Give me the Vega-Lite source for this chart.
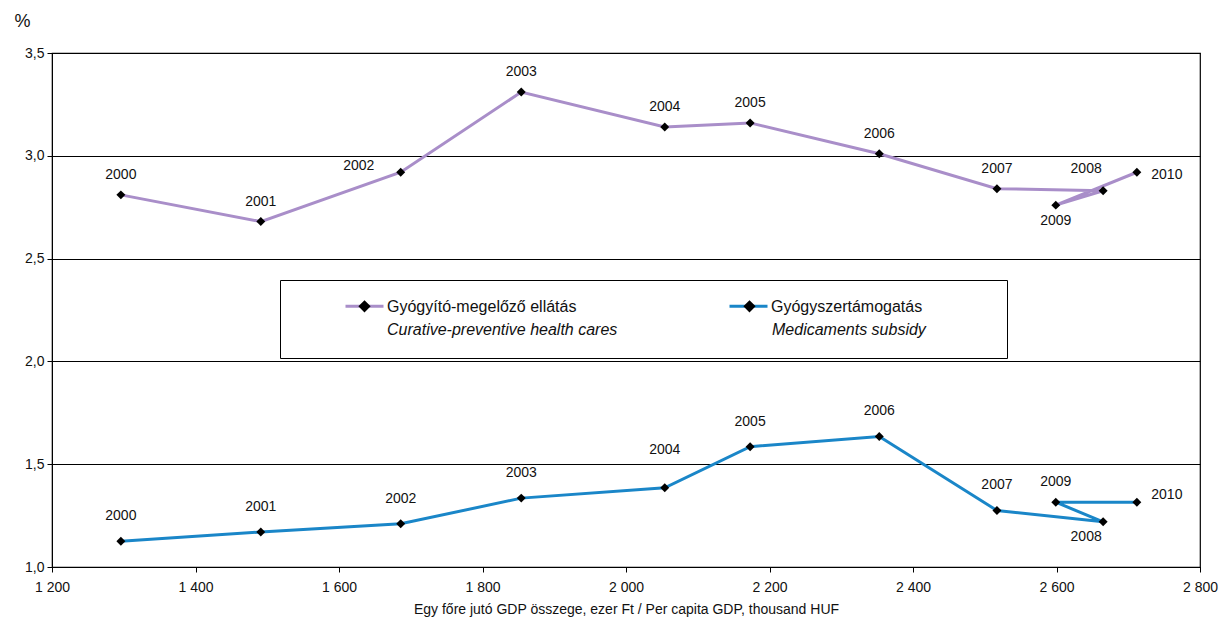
{
  "$schema": "https://vega.github.io/schema/vega-lite/v6.json",
  "width": 1148,
  "height": 514,
  "autosize": {"type": "none"},
  "padding": {"left": 52, "top": 53, "right": 23, "bottom": 57},
  "background": "white",
  "config": {
    "font": "Liberation Sans",
    "view": {"stroke": "black", "strokeWidth": 1.2},
    "axis": {"labelFont": "Liberation Sans", "titleFont": "Liberation Sans", "labelColor": "#111", "titleColor": "#111", "domainColor": "black", "tickColor": "black"}
  },
  "data": {
    "values": [
      {"series": "Gyógyító-megelőző ellátás", "series_en": "Curative-preventive health cares", "year": 2000, "gdp": 1296, "value": 2.81},
      {"series": "Gyógyító-megelőző ellátás", "series_en": "Curative-preventive health cares", "year": 2001, "gdp": 1491, "value": 2.68},
      {"series": "Gyógyító-megelőző ellátás", "series_en": "Curative-preventive health cares", "year": 2002, "gdp": 1686, "value": 2.92},
      {"series": "Gyógyító-megelőző ellátás", "series_en": "Curative-preventive health cares", "year": 2003, "gdp": 1854, "value": 3.31},
      {"series": "Gyógyító-megelőző ellátás", "series_en": "Curative-preventive health cares", "year": 2004, "gdp": 2054, "value": 3.14},
      {"series": "Gyógyító-megelőző ellátás", "series_en": "Curative-preventive health cares", "year": 2005, "gdp": 2173, "value": 3.16},
      {"series": "Gyógyító-megelőző ellátás", "series_en": "Curative-preventive health cares", "year": 2006, "gdp": 2353, "value": 3.01},
      {"series": "Gyógyító-megelőző ellátás", "series_en": "Curative-preventive health cares", "year": 2007, "gdp": 2517, "value": 2.84},
      {"series": "Gyógyító-megelőző ellátás", "series_en": "Curative-preventive health cares", "year": 2008, "gdp": 2665, "value": 2.83},
      {"series": "Gyógyító-megelőző ellátás", "series_en": "Curative-preventive health cares", "year": 2009, "gdp": 2599, "value": 2.76},
      {"series": "Gyógyító-megelőző ellátás", "series_en": "Curative-preventive health cares", "year": 2010, "gdp": 2712, "value": 2.92},
      {"series": "Gyógyszertámogatás", "series_en": "Medicaments subsidy", "year": 2000, "gdp": 1296, "value": 1.125},
      {"series": "Gyógyszertámogatás", "series_en": "Medicaments subsidy", "year": 2001, "gdp": 1491, "value": 1.17},
      {"series": "Gyógyszertámogatás", "series_en": "Medicaments subsidy", "year": 2002, "gdp": 1686, "value": 1.21},
      {"series": "Gyógyszertámogatás", "series_en": "Medicaments subsidy", "year": 2003, "gdp": 1854, "value": 1.335},
      {"series": "Gyógyszertámogatás", "series_en": "Medicaments subsidy", "year": 2004, "gdp": 2054, "value": 1.385},
      {"series": "Gyógyszertámogatás", "series_en": "Medicaments subsidy", "year": 2005, "gdp": 2173, "value": 1.585},
      {"series": "Gyógyszertámogatás", "series_en": "Medicaments subsidy", "year": 2006, "gdp": 2353, "value": 1.635},
      {"series": "Gyógyszertámogatás", "series_en": "Medicaments subsidy", "year": 2007, "gdp": 2517, "value": 1.275},
      {"series": "Gyógyszertámogatás", "series_en": "Medicaments subsidy", "year": 2008, "gdp": 2665, "value": 1.22},
      {"series": "Gyógyszertámogatás", "series_en": "Medicaments subsidy", "year": 2009, "gdp": 2599, "value": 1.315},
      {"series": "Gyógyszertámogatás", "series_en": "Medicaments subsidy", "year": 2010, "gdp": 2712, "value": 1.315}
    ]
  },
  "encoding": {
    "x": {
      "field": "gdp", "type": "quantitative",
      "scale": {"domain": [1200, 2800], "nice": false, "zero": false},
      "axis": {
        "values": [1200, 1400, 1600, 1800, 2000, 2200, 2400, 2600, 2800],
        "labelExpr": "replace(format(datum.value, ','), ',', ' ')",
        "labelFlush": false, "labelOverlap": false,
        "grid": false, "labelFontSize": 14, "labelPadding": 8, "tickSize": 5,
        "title": "Egy főre jutó GDP összege, ezer Ft / Per capita GDP, thousand HUF",
        "titleFontSize": 14, "titleFontWeight": "normal", "titlePadding": 8
      }
    },
    "y": {
      "field": "value", "type": "quantitative",
      "scale": {"domain": [1, 3.5], "nice": false, "zero": false},
      "axis": {
        "values": [1, 1.5, 2, 2.5, 3, 3.5],
        "labelExpr": "replace(format(datum.value, '.1f'), '.', ',')",
        "grid": true, "gridColor": "black", "gridWidth": 1, "gridOpacity": 1,
        "labelFontSize": 14, "tickSize": 5, "labelPadding": 3,
        "title": "%", "titleAngle": 0, "titleFontSize": 18, "titleFontWeight": "normal",
        "titleX": -30, "titleY": -32, "titleAlign": "center", "titleBaseline": "middle"
      }
    }
  },
  "layer": [
    {
      "mark": {"type": "line", "strokeWidth": 3},
      "encoding": {
        "color": {
          "field": "series", "type": "nominal",
          "scale": {"domain": ["Gyógyító-megelőző ellátás", "Gyógyszertámogatás"], "range": ["#a98ec9", "#1a86c8"]},
          "legend": {
            "orient": "none", "legendX": 228, "legendY": 227,
            "direction": "horizontal", "columns": 2, "columnPadding": 7,
            "title": null,
            "strokeColor": "black", "padding": 13,
            "symbolType": "M-0.95,-0.42H0.95M0,1.2L0,1.2", "symbolOffset": 50,
            "symbolSize": 1600, "symbolStrokeWidth": 3,
            "labelFontSize": 16, "labelColor": "#111", "labelOffset": 1, "labelLimit": 284,
            "labelBaseline": "bottom",
            "labelExpr": "datum.label + pad('', datum.label == 'Gyógyszertámogatás' ? 16 : 120, '\u00a0') + '\u200b'",
            "encoding": {"labels": {"ellipsis": {"value": "\u200b"}}}
          }
        },
        "order": {"field": "year", "type": "ordinal"}
      }
    },
    {
      "mark": {"type": "point", "shape": "diamond", "filled": true, "color": "black", "size": 80, "opacity": 1}
    },
    {
      "mark": {
        "type": "text", "fontSize": 14, "color": "#111", "baseline": "middle",
        "dx": {"expr": "datum.year == 2010 ? 30 : datum.year == 2008 ? -17 : (datum.year == 2002 && datum.series != 'Gyógyszertámogatás') ? -42 : 0"},
        "dy": {"expr": "datum.series == 'Gyógyszertámogatás' ? (datum.year == 2004 ? -38 : datum.year == 2008 ? 15 : datum.year == 2010 ? -7 : datum.year == 2009 ? -20 : -25) : (datum.year == 2002 ? -6 : datum.year == 2008 ? -22 : datum.year == 2009 ? 16 : datum.year == 2010 ? 3 : -20)"}
      },
      "encoding": {
        "text": {"field": "year", "type": "nominal"},
        "opacity": {
          "field": "series_en", "type": "nominal",
          "scale": {"domain": ["Curative-preventive health cares", "Medicaments subsidy"], "range": [1, 1]},
          "legend": {
            "orient": "none", "legendX": 228, "legendY": 250,
            "direction": "horizontal", "columns": 2, "columnPadding": 7,
            "title": null,
            "padding": 13,
            "symbolType": "M0,-1.77L0.2,-1.57L0,-1.37L-0.2,-1.57Z", "symbolOffset": 50,
            "symbolSize": 1600, "symbolStrokeWidth": 3,
            "symbolFillColor": "black", "symbolStrokeColor": "black",
            "labelFontSize": 16, "labelFontStyle": "italic", "labelColor": "#111", "labelOffset": 1, "labelLimit": 284,
            "labelBaseline": "bottom",
            "labelExpr": "datum.label + pad('', datum.label == 'Medicaments subsidy' ? 4 : 120, '\u00a0') + '\u200b'",
            "encoding": {
              "labels": {"ellipsis": {"value": "\u200b"}},
              "symbols": {"fill": {"value": "black"}, "stroke": {"value": "black"}, "opacity": {"value": 1}}
            }
          }
        }
      }
    }
  ]
}
